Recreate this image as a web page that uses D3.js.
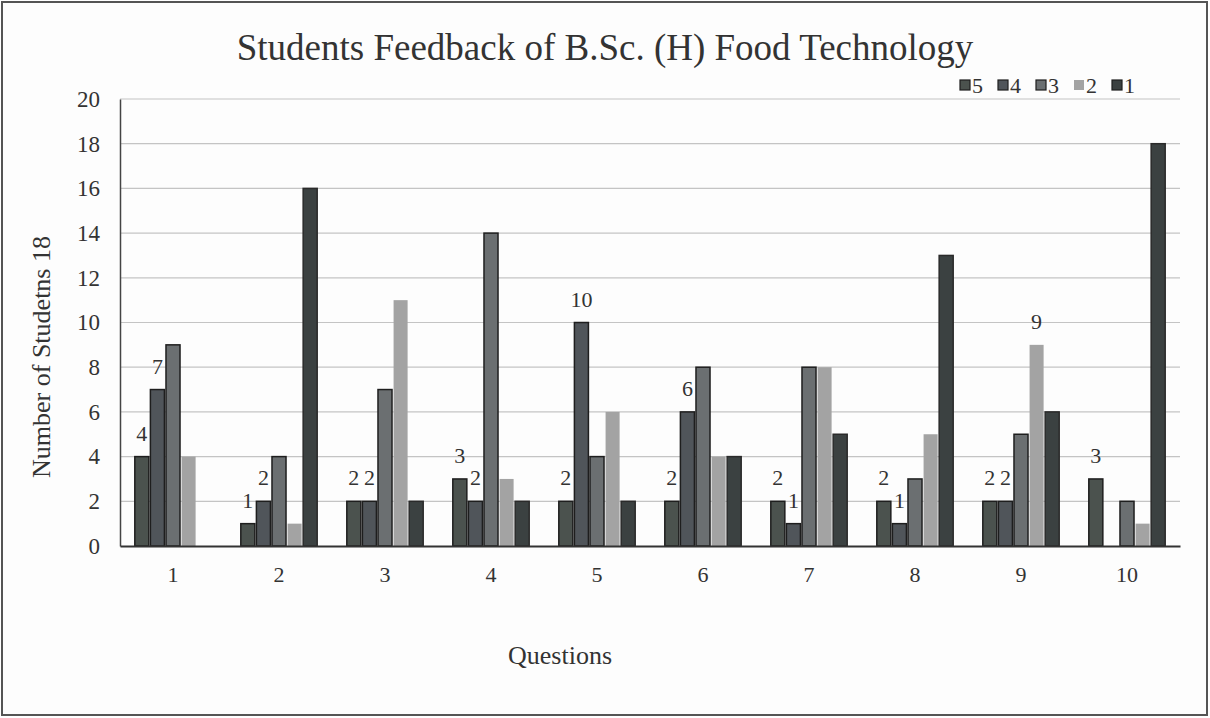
<!DOCTYPE html>
<html>
<head>
<meta charset="utf-8">
<script src="https://cdn.jsdelivr.net/npm/d3@7"></script>
<style>
  body { margin: 0; background: #fff; }
  svg { display: block; font-family: "Liberation Serif", "DejaVu Serif", serif; }
</style>
</head>
<body>
<svg class="canvas" width="1210" height="718"></svg>
<script>
const questions = ["1", "2", "3", "4", "5", "6", "7", "8", "9", "10"];
const ratings = ["5", "4", "3", "2", "1"];

// students per rating, one entry per question
const rating5 = [4, 1, 2, 3, 2, 2, 2, 2, 2, 3];
const rating4 = [7, 2, 2, 2, 10, 6, 1, 1, 2, 0];
const rating3 = [9, 4, 7, 14, 4, 8, 8, 3, 5, 2];
const rating2 = [4, 1, 11, 3, 6, 4, 8, 5, 9, 1];
const rating1 = [0, 16, 2, 2, 2, 4, 5, 13, 6, 18];

const yTicks = [0, 2, 4, 6, 8, 10, 12, 14, 16, 18, 20];

// which bars carry a value label: [question, rating]
const labelled = [
  ["1", "5"], ["1", "4"], ["2", "5"], ["2", "4"], ["3", "5"], ["3", "4"],
  ["4", "5"], ["4", "4"], ["5", "5"], ["5", "4"], ["6", "5"], ["6", "4"],
  ["7", "5"], ["7", "4"], ["8", "5"], ["8", "4"], ["9", "5"], ["9", "4"],
  ["9", "2"], ["10", "5"]
];

const seriesValues = { "5": rating5, "4": rating4, "3": rating3, "2": rating2, "1": rating1 };
const fills = { "5": "#4b524e", "4": "#50555a", "3": "#6b6f71", "2": "#a3a3a3", "1": "#3b4141" };
const strokes = { "5": "#1e1e1e", "4": "#1e1e1e", "3": "#1e1e1e", "2": "none", "1": "#2a2a2a" };

const rows = questions.map((q, i) => ({
  q,
  bars: ratings.map(r => ({ q, r, v: seriesValues[r][i] }))
}));

const svg = d3.select(".canvas");
const plotLeft = 120, plotRight = 1180, plotTop = 99, plotBottom = 546;

// frame
svg.append("rect")
  .attr("x", 2).attr("y", 2)
  .attr("width", 1205).attr("height", 713)
  .attr("fill", "#fdfdfd")
  .attr("stroke", "#555")
  .attr("stroke-width", 2);

const x0 = d3.scaleBand()
  .domain(questions)
  .range([plotLeft, plotRight])
  .paddingInner(0.25)
  .paddingOuter(0.125);

const x1 = d3.scaleBand()
  .domain(ratings)
  .range([0, x0.bandwidth()])
  .padding(0.1);

const y = d3.scaleLinear().domain([0, 20]).range([plotBottom, plotTop]);

// gridlines
svg.append("g")
  .selectAll("line")
  .data(yTicks.filter(t => t > 0))
  .enter()
  .append("line")
  .attr("x1", plotLeft).attr("x2", plotRight)
  .attr("y1", d => y(d)).attr("y2", d => y(d))
  .attr("stroke", "#c4c4c4")
  .attr("stroke-width", 1.2);

// y axis
const yAxis = svg.append("g")
  .attr("transform", `translate(${plotLeft},0)`)
  .call(d3.axisLeft(y).tickValues(yTicks).tickSize(0).tickPadding(20));
yAxis.select(".domain").attr("stroke", "#444").attr("stroke-width", 1.5);
yAxis.selectAll("text")
  .attr("font-size", 23)
  .attr("fill", "#333")
  .attr("font-family", "Liberation Serif, serif");

// bars
const groups = svg.append("g")
  .selectAll("g")
  .data(rows)
  .enter()
  .append("g")
  .attr("transform", d => `translate(${x0(d.q)},0)`);

groups.selectAll("rect")
  .data(d => d.bars.filter(b => b.v > 0))
  .enter()
  .append("rect")
  .attr("x", d => x1(d.r))
  .attr("y", d => y(d.v))
  .attr("width", x1.bandwidth())
  .attr("height", d => y(0) - y(d.v))
  .attr("fill", d => fills[d.r])
  .attr("stroke", d => strokes[d.r])
  .attr("stroke-width", 1.5);

// value labels
svg.append("g")
  .selectAll("text")
  .data(labelled)
  .enter()
  .append("text")
  .attr("x", d => x0(d[0]) + x1(d[1]) + x1.bandwidth() / 2)
  .attr("y", d => y(seriesValues[d[1]][questions.indexOf(d[0])]) - 16)
  .attr("text-anchor", "middle")
  .attr("font-size", 22)
  .attr("fill", "#333")
  .text(d => seriesValues[d[1]][questions.indexOf(d[0])]);

// x axis
const xAxis = svg.append("g")
  .attr("transform", `translate(0,${plotBottom})`)
  .call(d3.axisBottom(x0).tickSize(0).tickPadding(20));
xAxis.select(".domain").attr("stroke", "#333").attr("stroke-width", 2);
xAxis.selectAll("text")
  .attr("font-size", 22)
  .attr("fill", "#333")
  .attr("font-family", "Liberation Serif, serif");

// title
svg.append("text")
  .attr("x", 605).attr("y", 60)
  .attr("text-anchor", "middle")
  .attr("font-size", 37)
  .attr("fill", "#333")
  .text("Students Feedback of B.Sc. (H) Food Technology");

// axis titles
svg.append("text")
  .attr("transform", "translate(50,357) rotate(-90)")
  .attr("text-anchor", "middle")
  .attr("font-size", 26)
  .attr("fill", "#333")
  .text("Number of Studetns 18");

svg.append("text")
  .attr("x", 560).attr("y", 664)
  .attr("text-anchor", "middle")
  .attr("font-size", 26)
  .attr("fill", "#333")
  .text("Questions");

// legend
const legend = svg.append("g")
  .selectAll("g")
  .data(ratings)
  .enter()
  .append("g")
  .attr("transform", (d, i) => `translate(${960 + i * 38},80)`);

legend.append("rect")
  .attr("width", 10).attr("height", 10)
  .attr("fill", d => fills[d])
  .attr("stroke", d => strokes[d] === "none" ? "none" : "#1e1e1e")
  .attr("stroke-width", 1.2);

legend.append("text")
  .attr("x", 12).attr("y", 13)
  .attr("font-size", 22)
  .attr("fill", "#333")
  .text(d => d);
</script>
</body>
</html>
